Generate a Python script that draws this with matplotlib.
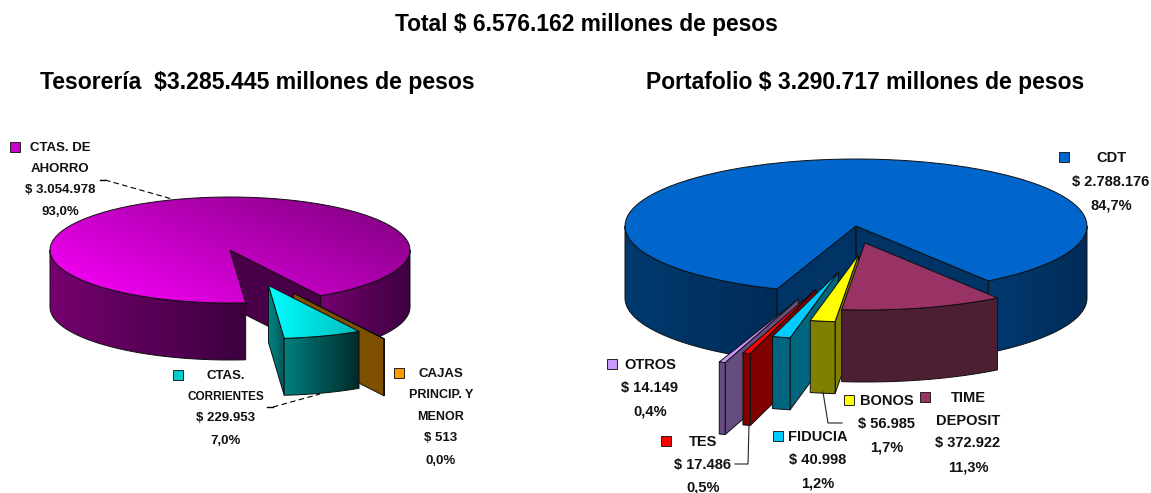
import numpy as np
import matplotlib
matplotlib.use('Agg')
import matplotlib.pyplot as plt
from matplotlib.colors import to_rgb
from matplotlib.patches import Polygon, Rectangle

plt.rcParams['font.family'] = ['Liberation Sans', 'DejaVu Sans']

# Tesoreria, order is clockwise on screen starting from the big slice
teso_names = ['CTAS. DE AHORRO', 'CAJAS PRINCIP. Y MENOR', 'CTAS. CORRIENTES']
teso_values = [3054978, 513, 229953]
# Portafolio
port_names = ['CDT', 'TIME DEPOSIT', 'BONOS', 'FIDUCIA', 'TES', 'OTROS']
port_values = [2788176, 372922, 56985, 40998, 17486, 14149]

title_total = 'Total $ 6.576.162 millones de pesos'
title_teso = 'Tesorería  $3.285.445 millones de pesos'
title_port = 'Portafolio $ 3.290.717 millones de pesos'

fig = plt.figure(figsize=(11.51, 4.93), dpi=100)
ax = fig.add_axes([0, 0, 1, 1])
ax.set_xlim(0, 1151)
ax.set_ylim(493, 0)
ax.set_autoscale_on(False)
ax.axis('off')


def grad_poly(verts, c0, c1, angle=0, z=1):
    # polygon filled with a linear gradient, c0 -> c1 along angle (screen degrees)
    verts = np.array(verts)
    x0, y0 = verts.min(axis=0)
    x1, y1 = verts.max(axis=0)
    xx, yy = np.meshgrid(np.linspace(0, 1, 64), np.linspace(0, 1, 64))
    a = np.radians(angle)
    g = xx * np.cos(a) + yy * np.sin(a)
    g = (g - g.min()) / max(g.max() - g.min(), 1e-6)
    c0 = np.array(to_rgb(c0))
    c1 = np.array(to_rgb(c1))
    img = c0 + (c1 - c0) * g[..., None]
    im = ax.imshow(img, extent=(x0, x1, y1, y0), aspect='auto', zorder=z,
                   interpolation='bilinear')
    p = Polygon(verts, closed=True, fc='none', ec='#101010', lw=0.7, zorder=z + 0.1)
    ax.add_patch(p)
    im.set_clip_path(p)


def arc(cx, cy, rx, ry, t1, t2):
    t = np.radians(np.linspace(t1, t2, 90))
    return np.column_stack([cx + rx * np.cos(t), cy + ry * np.sin(t)])


def slice3d(cx, cy, rx, ry, depth, t1, t2, top, rim, side, z):
    # t1..t2 in degrees, screen clockwise. 90 is the front of the ellipse
    down = np.array([0, depth])
    apex = np.array([cx, cy])
    p1 = arc(cx, cy, rx, ry, t1, t1)[0]
    p2 = arc(cx, cy, rx, ry, t2, t2)[0]
    # cut faces first, only when they look at the viewer
    if np.cos(np.radians(t2)) > 0:
        grad_poly([apex, p2, p2 + down, apex + down], side[0], side[1], 0, z)
    if np.cos(np.radians(t1)) < 0:
        grad_poly([apex, p1, p1 + down, apex + down], side[0], side[1], 0, z)
    # outer wall, split at 0 / 180 / 360 so only the front part is drawn
    for a, b in [(0, 180), (360, 540)]:
        lo = max(t1, a)
        hi = min(t2, b)
        if hi > lo:
            e = arc(cx, cy, rx, ry, lo, hi)
            grad_poly(np.vstack([e, (e + down)[::-1]]), rim[0], rim[1], 0, z + 0.2)
    e = arc(cx, cy, rx, ry, t1, t2)
    grad_poly(np.vstack([apex, e]), top[0], top[1], top[2], z + 0.4)


def draw_pie(values, start, cx, cy, rx, ry, depth, apexes, styles):
    # first slice runs the long way round the back, the rest fill the gap
    total = float(sum(values))
    sweep = [v / total * 360 for v in values]
    t1 = start
    t2 = start + sweep[0]
    s = styles[0]
    slice3d(cx, cy, rx, ry, depth, t1, t2, s[0], s[1], s[2], 2)
    cur = t2 - 360
    spans = []
    for v in sweep[1:]:
        spans.append((cur, cur + v))
        cur += v
    # painter order comes from the caller
    for i in apexes['order']:
        a, b = spans[i]
        ax_, ay_ = apexes['xy'][i]
        s = styles[i + 1]
        slice3d(ax_, ay_, rx, ry, depth, a, b, s[0], s[1], s[2], 4 + apexes['order'].index(i))


# left pie
teso_styles = [
    (('#ff00ff', '#7a007a', -35), ('#75006f', '#3c003f'), ('#4a0048', '#4a0048')),
    (('#ff9900', '#ff9900', 0), ('#7f5000', '#7f5000'), ('#7f5000', '#7f5000')),
    (('#00ffff', '#00bcbc', 0), ('#008080', '#002a2a'), ('#008888', '#005a5a')),
]
draw_pie(teso_values, 85, 230, 250, 180, 53, 57,
         {'xy': [(293.5, 293), (268.5, 285.5)], 'order': [0, 1]}, teso_styles)

# right pie
port_styles = [
    (('#0066cc', '#0066cc', 0), ('#003a70', '#002c58'), ('#003366', '#003366')),
    (('#993366', '#993366', 0), ('#4d1f33', '#4d1f33'), ('#4d1f33', '#4d1f33')),
    (('#ffff00', '#ffff00', 0), ('#808000', '#808000'), ('#808000', '#808000')),
    (('#00ccff', '#00ccff', 0), ('#006680', '#006680'), ('#006680', '#006680')),
    (('#ff0000', '#ff0000', 0), ('#800000', '#800000'), ('#800000', '#800000')),
    (('#cc99ff', '#cc99ff', 0), ('#664d80', '#664d80'), ('#664d80', '#664d80')),
]
draw_pie(port_values, 110, 856, 226, 231, 67, 72,
         {'xy': [(865, 243), (858.5, 255), (838.3, 272.3), (816, 289.3), (798.3, 299)],
          'order': [4, 3, 2, 1, 0]}, port_styles)

# titles
ax.text(586.5, 25, title_total, ha='center', va='center', fontsize=16.4, fontweight='bold')
ax.text(257, 83, title_teso, ha='center', va='center', fontsize=16.6, fontweight='bold')
ax.text(865, 83, title_port, ha='center', va='center', fontsize=16.5, fontweight='bold')

# data labels: lines, centre x, y of each line, key x, key colour, font size per line
labels = [
    (['CTAS. DE', 'AHORRO', '$ 3.054.978', '93,0%'], 60, [148, 169, 190, 212], 15, '#cc00cc',
     [9.5, 9.5, 9.5, 9.5]),
    (['CTAS.', 'CORRIENTES', '$ 229.953', '7,0%'], 226, [376, 397, 418, 441], 178, '#00cccc',
     [9.5, 8.5, 9.5, 9.5]),
    (['CAJAS', 'PRINCIP. Y', 'MENOR', '$ 513', '0,0%'], 441, [374, 395, 417, 438, 461], 399, '#ff9900',
     [9.5, 9, 9, 9.5, 9.5]),
    (['CDT', '$ 2.788.176', '84,7%'], 1111, [158, 182, 205], 1064, '#0066cc', [10.5] * 3),
    (['TIME', 'DEPOSIT', '$ 372.922', '11,3%'], 968, [398, 421, 443, 467], 925, '#993366', [10.5] * 4),
    (['BONOS', '$ 56.985', '1,7%'], 887, [401, 424, 447], 849, '#ffff00', [10.5] * 3),
    (['FIDUCIA', '$ 40.998', '1,2%'], 818, [437, 460, 484], 778, '#00ccff', [10.5] * 3),
    (['TES', '$ 17.486', '0,5%'], 703, [442, 465, 488], 666, '#ff0000', [10.5] * 3),
    (['OTROS', '$ 14.149', '0,4%'], 650, [365, 388, 411], 612, '#cc99ff', [10.5] * 3),
]
for lines, x, ys, kx, col, sizes in labels:
    for line, y, fs in zip(lines, ys, sizes):
        ax.text(x, y, line, ha='center', va='center', fontsize=fs, fontweight='bold',
                color='#111111', zorder=20)
    ax.add_patch(Rectangle((kx - 4.5, ys[0] - 6), 9.5, 9.5, fc=col, ec='#222222', lw=0.7, zorder=20))

# leader lines
ax.plot([100, 105], [180, 180], color='k', lw=1, zorder=15)
ax.plot([105, 172], [180, 199], color='k', lw=0.8, ls=(0, (5, 3)), zorder=15)
ax.plot([267, 273], [407, 407], color='k', lw=1, zorder=15)
ax.plot([273, 320], [407, 394], color='k', lw=0.8, ls=(0, (5, 3)), zorder=15)
ax.plot([735, 748, 749], [464, 464, 425], color='#222222', lw=0.8, zorder=15)
ax.plot([823, 828, 842], [392, 423, 423], color='#222222', lw=0.8, zorder=15)

fig.savefig('out.png', dpi=100, facecolor='white')
